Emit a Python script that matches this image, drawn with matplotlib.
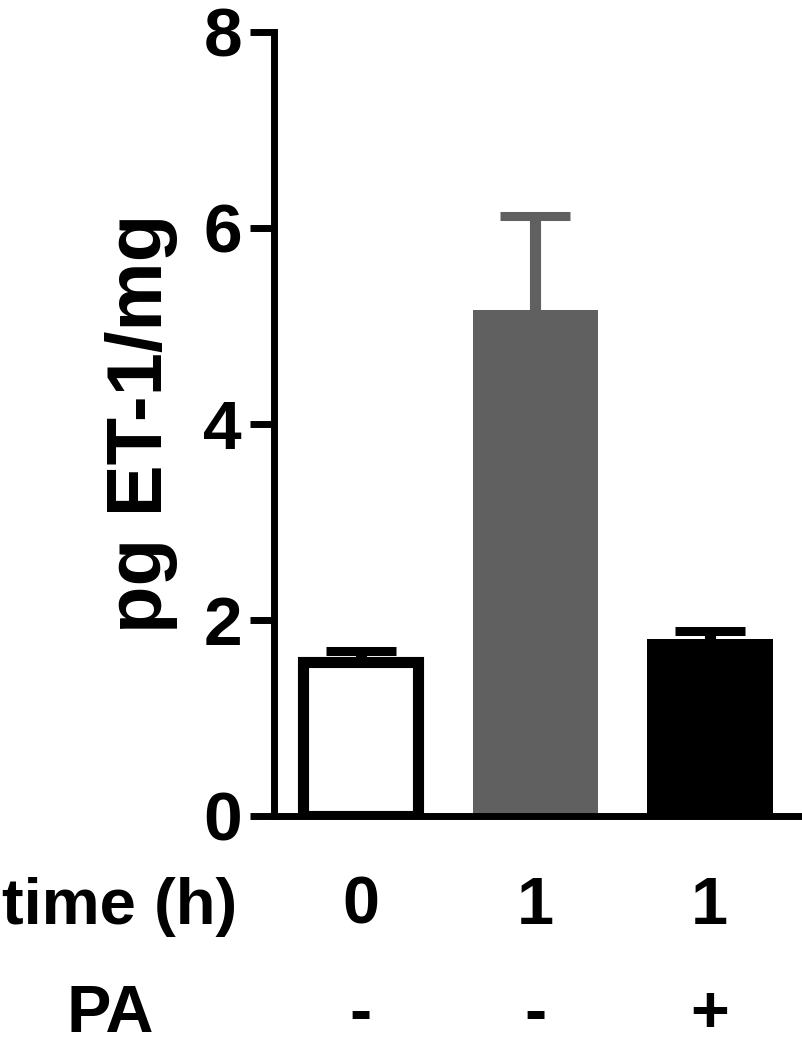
import matplotlib
matplotlib.use("Agg")
import matplotlib.pyplot as plt
from matplotlib.transforms import blended_transform_factory

plt.rcParams['font.family'] = ['Liberation Sans', 'DejaVu Sans']
plt.rcParams['font.weight'] = 'bold'

# data
groups = ['0 h', '1 h', '1 h + PA']
means = [1.57, 5.16, 1.80]
sems = [0.11, 0.96, 0.09]
time_labels = ['0', '1', '1']
pa_labels = ['-', '-', '+']
colors = ['white', '#606060', 'black']

fig = plt.figure(figsize=(8.03, 10.5), dpi=100)
ax = fig.add_axes([0.341, 0.223, 0.655, 0.747])

x = list(range(len(groups)))
lw_edge = 8
for i in x:
    if i == 0:
        ax.bar(i, means[i], width=0.66, color='white', edgecolor='black',
               linewidth=lw_edge, zorder=2)
    else:
        ax.bar(i, means[i], width=0.72, color=colors[i], edgecolor='none', zorder=2)
    ecol = '#606060' if i == 1 else 'black'
    eb = ax.errorbar(i, means[i], yerr=[[0], [sems[i]]], fmt='none', ecolor=ecol,
                     elinewidth=8, capsize=25, capthick=6.5, zorder=3)
    eb[1][0].remove()

ax.set_xlim(-0.499, 2.516)
ax.set_ylim(0, 8)
ax.set_yticks([0, 2, 4, 6, 8])
ax.set_xticks([])

for s in ['top', 'right']:
    ax.spines[s].set_visible(False)
ax.spines['left'].set_linewidth(5)
ax.spines['bottom'].set_linewidth(5)
ax.tick_params(axis='y', length=17, width=5, pad=6, labelsize=50)
for t in ax.get_yticklabels():
    t.set_fontweight('bold')

ax.set_ylabel('pg ET-1/mg', fontsize=56, fontweight='bold')
ax.yaxis.set_label_coords(-0.183, 0.5)

tr = blended_transform_factory(ax.transData, fig.transFigure)
for i in x:
    ax.text(i, 1 - 907 / 1050, time_labels[i], transform=tr, ha='center', va='center',
            fontsize=48, fontweight='bold', clip_on=False)
    ax.text(i, 1 - 1015 / 1050, pa_labels[i], transform=tr, ha='center', va='center',
            fontsize=48, fontweight='bold', clip_on=False)
fig.text(2 / 803, 1 - 907 / 1050, 'time (h)', ha='left', va='center', fontsize=47,
         fontweight='bold')
fig.text(110 / 803, 1 - 1015 / 1050, 'PA', ha='center', va='center', fontsize=48,
         fontweight='bold')

fig.savefig('out.png', dpi=100)
